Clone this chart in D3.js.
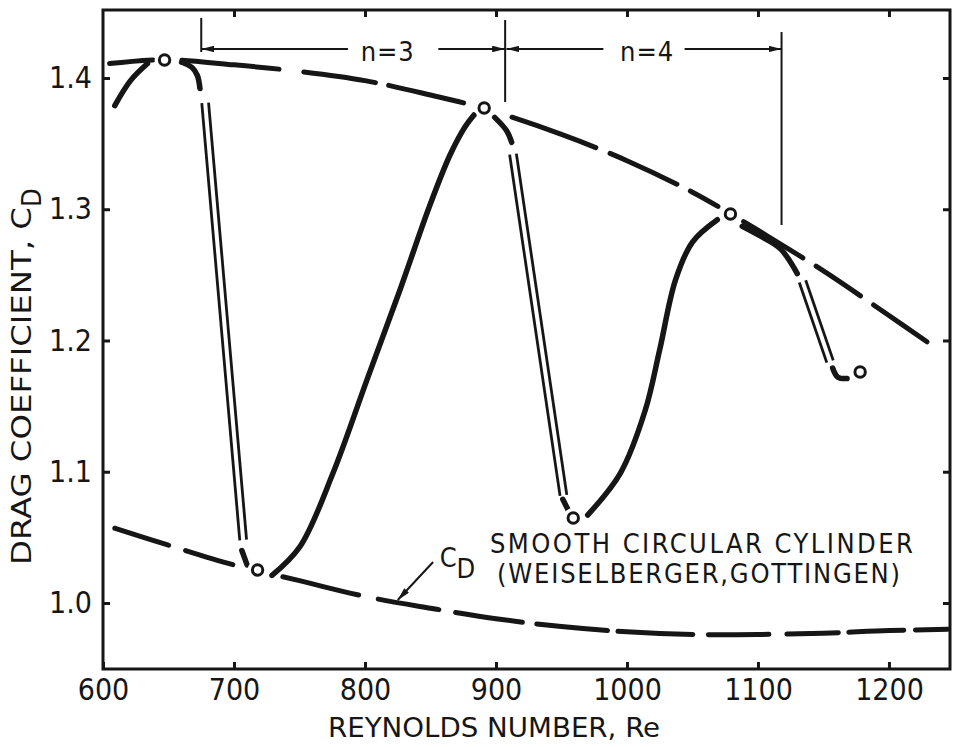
<!DOCTYPE html>
<html><head><meta charset="utf-8">
<script src="https://cdn.jsdelivr.net/npm/d3@7"></script>
<style>
body{margin:0;background:#fff;}
svg{display:block;background:#fff;}
</style></head><body>
<svg id="c" width="953" height="747"></svg>
<script>
// ---------- data ----------
const xTicks = [600, 700, 800, 900, 1000, 1100, 1200];
const yTicks = [1.0, 1.1, 1.2, 1.3, 1.4];

// Weiselberger (Gottingen) smooth cylinder reference curve
const refRe = [609, 650, 700, 750, 800, 850, 900, 950, 1000, 1050, 1100, 1150, 1200, 1245];
const refCd = [1.057, 1.044, 1.029, 1.017, 1.005, 0.996, 0.988, 0.982, 0.978, 0.976, 0.976, 0.977, 0.979, 0.980];
const refDashRe = [[609,650],[663,699],[737,795],[810,856],[869,920],[931,985],[993,1050],[1062,1108],[1122,1161],[1169,1211],[1220,1245]];

// upper envelope (dashed)
const envRe = [605, 647, 700, 750, 800, 850, 890, 950, 1000, 1050, 1080, 1100, 1150, 1200, 1229];
const envCd = [1.411, 1.414, 1.410, 1.405, 1.398, 1.387, 1.377, 1.357, 1.337, 1.313, 1.296, 1.284, 1.253, 1.219, 1.199];
const envDashRe = [[605,638],[660,734],[753,808],[818,875],[912,976],[987,1038],[1048,1069],[1089,1134],[1144,1178],[1188,1229]];

// oscillating curve: solid pieces
const seg1Re = [609, 621, 634],               seg1Cd = [1.379, 1.398, 1.411];
const seg2Re = [660, 668, 672, 674],          seg2Cd = [1.412, 1.408, 1.402, 1.392];
const rise1Re = [729, 750.4, 775.6, 801.5, 826.7, 849.6, 864.9, 876.3, 883.2];
const rise1Cd = [1.021, 1.043, 1.099, 1.170, 1.2385, 1.3032, 1.3413, 1.3627, 1.3718];
const desc2Re = [899, 908, 912],              desc2Cd = [1.370, 1.360, 1.351];
const rise2Re = [970, 995, 1014, 1025, 1037, 1050, 1069];
const rise2Cd = [1.067, 1.099, 1.147, 1.193, 1.246, 1.275, 1.292];
const desc3Re = [1088, 1101, 1117, 1130],     desc3Cd = [1.287, 1.280, 1.270, 1.251];
const short1Re = [706, 710],                  short1Cd = [1.040, 1.029];
const short2Re = [951, 955],                  short2Cd = [1.079, 1.071];
const hook3Re = [1157, 1161, 1168],           hook3Cd = [1.179, 1.172, 1.171];

// oscillating curve: double-line (jump) pieces
const jumpStartRe = [678, 913, 1134];
const jumpStartCd = [1.381, 1.342, 1.245];
const jumpEndRe   = [707, 951.5, 1155];
const jumpEndCd   = [1.048, 1.082, 1.184];

// measured points (open circles)
const ptRe = [647, 718, 891, 959, 1079, 1178];
const ptCd = [1.4137, 1.0251, 1.3771, 1.0648, 1.2964, 1.176];

// mode brackets
const nBoundRe = [675, 907, 1118];
const nBoundTop = [1.4457, 1.4442, 1.435];
const nBoundBot = [1.4198, 1.3817, 1.288];
const nArrowCd = 1.4221;
const nLabels = ["n=3", "n=4"];
const nLabelRe = [817, 1015];
const nArrowSegs = [[787, 675], [856, 907], [982, 908], [1044, 1118]]; // [from, to(arrowhead)]

// C_D pointer
const cdArrow = [[852, 1.0312], [825, 1.0023]];
const cdLabel = [857, 1.0274];

// annotation text
const note1 = "SMOOTH CIRCULAR CYLINDER";
const note2 = "(WEISELBERGER,GOTTINGEN)";
const note1Pos = [895.4, 1.038];
const note2Pos = [900.8, 1.0150];

// ---------- drawing ----------
const FONT = '"DejaVu Sans Condensed","DejaVu Sans",sans-serif';
const INK = "#161616";
const svg = d3.select("#c");
const x = d3.scaleLinear().domain([600, 1246.6]).range([103, 950]);
const y = d3.scaleLinear().domain([0.9497, 1.4518]).range([669, 10]);
const [X0, X1] = x.range();
const [Y0, Y1] = y.range();

// axes
const gB = svg.append("g").attr("transform", `translate(0,${Y0})`)
  .call(d3.axisBottom(x).tickValues(xTicks).tickSize(-7).tickPadding(10).tickFormat(d3.format("d")));
const gT = svg.append("g").attr("transform", `translate(0,${Y1})`)
  .call(d3.axisTop(x).tickValues(xTicks.slice(1)).tickSize(-7).tickFormat(""));
const gL = svg.append("g").attr("transform", `translate(${X0},0)`)
  .call(d3.axisLeft(y).tickValues(yTicks).tickSize(-7).tickPadding(11).tickFormat(d3.format(".1f")));
const gR = svg.append("g").attr("transform", `translate(${X1},0)`)
  .call(d3.axisRight(y).tickValues(yTicks).tickSize(-7).tickFormat(""));
[gB, gT, gL, gR].forEach(g => {
  g.select(".domain").remove();
  g.selectAll(".tick line").attr("stroke", INK).attr("stroke-width", 3);
  g.selectAll("text").attr("font-family", FONT).attr("font-size", 30).attr("fill", INK);
});
svg.append("rect").attr("x", X0).attr("y", Y1).attr("width", X1 - X0).attr("height", Y0 - Y1)
  .attr("fill", "none").attr("stroke", INK).attr("stroke-width", 3);

// axis titles
svg.append("text").attr("x", 494).attr("y", 737).attr("text-anchor", "middle")
  .attr("font-family", FONT).attr("font-size", 27).attr("fill", INK)
  .attr("textLength", 332).attr("lengthAdjust", "spacingAndGlyphs")
  .text("REYNOLDS NUMBER, Re");
const yt = svg.append("text").attr("transform", "translate(31,565) rotate(-90)")
  .attr("text-anchor", "start").attr("font-family", FONT).attr("font-size", 27).attr("fill", INK);
yt.append("tspan").attr("textLength", 358).attr("lengthAdjust", "spacingAndGlyphs").text("DRAG COEFFICIENT, C");
yt.append("tspan").attr("dy", 10).text("D");

const toPts = (re, cd) => re.map((r, i) => [x(r), y(cd[i])]);
const smooth = d3.line().curve(d3.curveCatmullRom.alpha(0.5));

function dashedAlong(re, cd, dashRe) {
  const p = svg.append("path").attr("d", smooth(toPts(re, cd)))
    .attr("fill", "none").attr("stroke", INK).attr("stroke-width", 5).attr("stroke-linecap", "round");
  const node = p.node();
  const L = node.getTotalLength();
  const lenAt = px => {
    for (let l = 0; l <= L; l += 0.5) { if (node.getPointAtLength(l).x >= px) return l; }
    return L;
  };
  const segs = dashRe.map(([a, b]) => [lenAt(x(a)), lenAt(x(b))]);
  const arr = [];
  let cur = 0;
  segs.forEach(([s, e], i) => {
    if (i === 0 && s > 0) { arr.push(0, s); }
    else if (i > 0) { arr.push(s - cur); }
    arr.push(Math.max(0.1, e - s));
    cur = e;
  });
  arr.push(L + 100);
  p.attr("stroke-dasharray", arr.join(","));
}
dashedAlong(refRe, refCd, refDashRe);
dashedAlong(envRe, envCd, envDashRe);

// solid pieces
[[seg1Re, seg1Cd], [seg2Re, seg2Cd], [rise1Re, rise1Cd], [desc2Re, desc2Cd], [rise2Re, rise2Cd],
 [desc3Re, desc3Cd], [short1Re, short1Cd], [short2Re, short2Cd], [hook3Re, hook3Cd]].forEach(([re, cd]) => {
  svg.append("path").attr("d", smooth(toPts(re, cd)))
    .attr("fill", "none").attr("stroke", INK).attr("stroke-width", 5.5).attr("stroke-linecap", "round");
});

// double lines
jumpStartRe.forEach((r0, i) => {
  const ax = x(r0), ay = y(jumpStartCd[i]), bx = x(jumpEndRe[i]), by = y(jumpEndCd[i]);
  const dx = bx - ax, dy = by - ay, len = Math.hypot(dx, dy);
  const nx = -dy / len * 3.4, ny = dx / len * 3.4;
  [-1, 1].forEach(s => {
    svg.append("line").attr("x1", ax + s * nx).attr("y1", ay + s * ny)
      .attr("x2", bx + s * nx).attr("y2", by + s * ny)
      .attr("stroke", INK).attr("stroke-width", 2.8);
  });
});

// open circles with white halo
const pts = ptRe.map((r, i) => [x(r), y(ptCd[i])]);
svg.append("g").selectAll("circle").data(pts).join("circle")
  .attr("cx", d => d[0]).attr("cy", d => d[1]).attr("r", 10).attr("fill", "#fff");
svg.append("g").selectAll("circle").data(pts).join("circle")
  .attr("cx", d => d[0]).attr("cy", d => d[1]).attr("r", 5.2)
  .attr("fill", "#fff").attr("stroke", INK).attr("stroke-width", 3);

// arrowheads
const defs = svg.append("defs");
defs.append("marker").attr("id", "ah").attr("viewBox", "0 0 12 6").attr("refX", 12).attr("refY", 3)
  .attr("markerUnits", "userSpaceOnUse").attr("markerWidth", 13).attr("markerHeight", 6.5).attr("orient", "auto")
  .append("path").attr("d", "M0,0 L12,3 L0,6 Z").attr("fill", INK);

// mode brackets
nBoundRe.forEach((r, i) => {
  svg.append("line").attr("x1", x(r)).attr("x2", x(r)).attr("y1", y(nBoundTop[i])).attr("y2", y(nBoundBot[i]))
    .attr("stroke", INK).attr("stroke-width", 2);
});
nArrowSegs.forEach(([a, b]) => {
  svg.append("line").attr("x1", x(a)).attr("x2", x(b)).attr("y1", y(nArrowCd)).attr("y2", y(nArrowCd))
    .attr("stroke", INK).attr("stroke-width", 1.8).attr("marker-end", "url(#ah)");
});
nLabels.forEach((t, i) => {
  svg.append("text").attr("x", x(nLabelRe[i])).attr("y", y(nArrowCd) + 12).attr("text-anchor", "middle")
    .attr("font-family", FONT).attr("font-size", 27).attr("fill", INK)
    .attr("textLength", 53).attr("lengthAdjust", "spacing").text(t);
});

// C_D pointer
svg.append("line").attr("x1", x(cdArrow[0][0])).attr("y1", y(cdArrow[0][1]))
  .attr("x2", x(cdArrow[1][0])).attr("y2", y(cdArrow[1][1]))
  .attr("stroke", INK).attr("stroke-width", 2).attr("marker-end", "url(#ah)");
const cl = svg.append("text").attr("x", x(cdLabel[0])).attr("y", y(cdLabel[1]))
  .attr("font-family", FONT).attr("font-size", 27).attr("fill", INK);
cl.append("tspan").text("C");
cl.append("tspan").attr("dy", 11).text("D");

// notes
svg.append("text").attr("x", x(note1Pos[0])).attr("y", y(note1Pos[1]))
  .attr("font-family", FONT).attr("font-size", 27).attr("fill", INK)
  .attr("textLength", 423).attr("lengthAdjust", "spacing").text(note1);
svg.append("text").attr("x", x(note2Pos[0])).attr("y", y(note2Pos[1]))
  .attr("font-family", FONT).attr("font-size", 27).attr("fill", INK)
  .attr("textLength", 403).attr("lengthAdjust", "spacing").text(note2);
</script>
</body></html>
